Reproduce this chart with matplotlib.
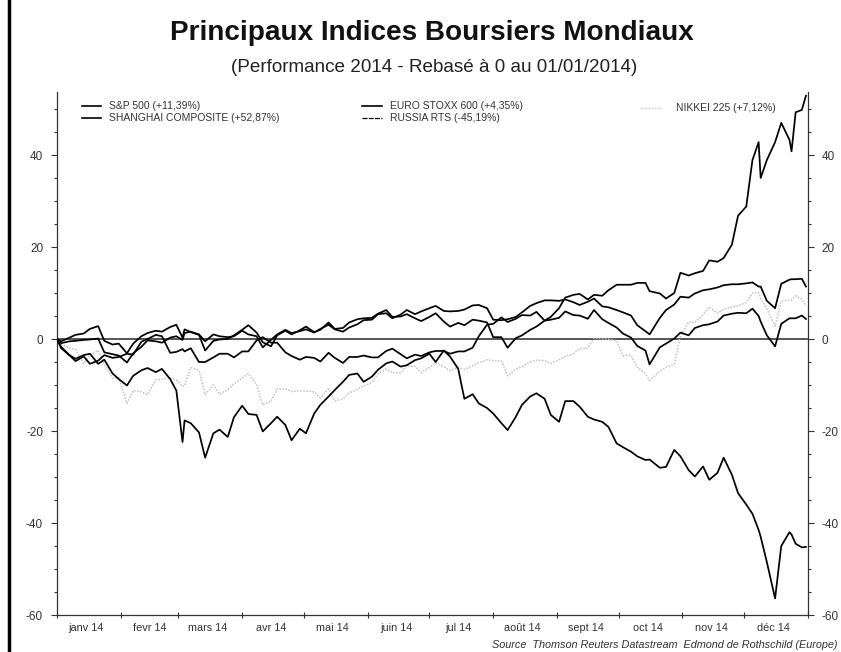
import matplotlib
matplotlib.use("Agg")
import matplotlib.pyplot as plt
from matplotlib.lines import Line2D
import pandas as pd

plt.rcParams['font.family'] = ['Liberation Sans', 'DejaVu Sans']

# ---------------- data ----------------
dates = [
    "01-01", "01-03", "01-07", "01-10", "01-14", "01-17", "01-21", "01-24", "01-28", "01-31",
    "02-04", "02-07", "02-11", "02-14", "02-18", "02-21", "02-25", "02-28",
    "03-03", "03-04", "03-07", "03-11", "03-14", "03-18", "03-21", "03-25", "03-28",
    "04-01", "04-04", "04-08", "04-11", "04-15", "04-18", "04-22", "04-25", "04-29",
    "05-02", "05-06", "05-09", "05-13", "05-16", "05-20", "05-23", "05-27", "05-30",
    "06-03", "06-06", "06-10", "06-13", "06-17", "06-20", "06-24", "06-27",
    "07-01", "07-04", "07-08", "07-11", "07-15", "07-18", "07-22", "07-25", "07-29",
    "08-01", "08-05", "08-08", "08-12", "08-15", "08-19", "08-22", "08-26", "08-29",
    "09-02", "09-05", "09-09", "09-12", "09-16", "09-19", "09-23", "09-26", "09-30",
    "10-03", "10-07", "10-10", "10-14", "10-16", "10-21", "10-24", "10-28", "10-31",
    "11-04", "11-07", "11-11", "11-14", "11-18", "11-21", "11-25", "11-28",
    "12-02", "12-05", "12-08", "12-09", "12-12", "12-16", "12-19", "12-23", "12-24",
    "12-26", "12-29", "12-31",
]

sp500 = [
    0.0, -0.9, -0.5, -0.4, -0.2, -0.1, 0.1, -2.9, -3.3, -3.6,
    -5.1, -3.1, -1.7, -0.3, -0.5, -0.8, 0.3, 0.6,
    -0.2, 1.3, 1.6, 1.0, -0.5, 1.0, 0.6, 0.4, 0.6,
    1.8, 1.0, 0.6, -1.8, -0.2, 1.0, 2.0, 1.3, 1.7,
    2.1, 1.4, 2.2, 3.1, 2.1, 1.6, 2.5, 3.2, 4.1,
    4.2, 5.4, 5.6, 4.5, 5.3, 6.3, 5.4, 6.0,
    6.7, 7.2, 6.1, 6.0, 6.1, 6.4, 7.3, 7.4, 6.7,
    4.2, 4.1, 4.3, 4.8, 5.8, 7.2, 7.8, 8.4, 8.4,
    8.3, 8.6, 8.0, 7.4, 8.1, 8.8, 7.1, 6.9, 6.3,
    5.8, 5.1, 3.0, 1.7, 1.0, 4.6, 6.3, 7.5, 9.2,
    9.0, 9.9, 10.6, 10.8, 11.2, 11.7, 11.9, 11.9,
    12.1, 12.3, 11.4, 11.4, 8.3, 6.7, 12.0, 12.9, 13.0,
    13.0, 13.1, 11.4,
]

eurostoxx600 = [
    0.0, -0.5, 0.3, 0.9, 1.2, 2.2, 2.8, -0.4, -1.2, -1.0,
    -3.1, -1.0, 0.6, 1.3, 1.8, 1.6, 2.6, 3.1,
    0.3, 2.1, 1.5, 0.9, -2.5, -0.4, -0.1, 0.0, 0.8,
    2.0, 3.0, 1.4, -0.7, -1.6, 0.8, 1.8, 1.0, 1.9,
    2.7, 1.5, 2.0, 3.6, 2.2, 2.4, 3.6, 4.3, 4.5,
    4.6, 5.5, 6.3, 4.8, 4.9, 5.4, 4.5, 3.9,
    4.8, 5.6, 3.8, 2.7, 3.5, 3.0, 4.2, 4.0, 3.6,
    0.4, 0.4, -1.9, 0.2, 0.8, 2.0, 2.7, 4.0, 4.2,
    4.6, 6.0, 5.2, 5.1, 4.4, 6.3, 4.3, 3.5, 2.5,
    1.2, 0.3, -1.5, -2.5, -5.5, -1.8, -1.0, 0.1, 1.4,
    0.8, 2.4, 3.0, 3.2, 3.8, 5.1, 5.5, 5.7,
    5.6, 6.6, 5.0, 3.8, 0.8, -1.6, 3.3, 4.5, 4.5,
    4.5, 5.1, 4.35,
]

nikkei225 = [
    0.0, -1.0, -2.0, -2.3, -5.3, -3.4, -2.5, -5.5, -8.5, -8.4,
    -14.0, -11.2, -11.5, -12.1, -8.9, -8.7, -8.5, -8.9,
    -10.3, -10.2, -6.2, -6.8, -12.1, -10.0, -12.0, -11.0, -9.8,
    -8.5, -7.5, -10.0, -14.3, -13.5, -10.9, -10.8, -11.4, -11.3,
    -11.3, -11.5, -12.8, -10.8, -13.5, -13.0, -11.7, -10.9, -10.2,
    -9.5, -7.5, -6.5, -7.3, -7.4, -5.8, -5.9, -7.3,
    -6.2, -5.2, -6.0, -6.9, -6.2, -6.6, -5.8, -5.1, -4.5,
    -4.7, -4.8, -8.0, -6.5, -6.0, -5.0, -4.6, -4.7, -5.3,
    -4.5, -3.8, -3.2, -2.1, -2.0, 0.2, 0.0, 0.0, -0.4,
    -3.6, -3.5, -6.1, -7.5, -9.0, -7.0, -6.1, -5.5, 0.7,
    3.7, 3.6, 5.3, 7.0, 5.6, 6.5, 6.9, 7.2,
    7.9, 10.0, 10.1, 8.8, 6.6, 2.8, 8.2, 8.5, 8.5,
    9.4, 8.7, 7.12,
]

shanghai = [
    0.0, -1.7, -3.5, -4.8, -3.8, -5.4, -4.7, -3.5, -4.1, -3.9,
    -3.2, -3.4, -0.6, 0.0, 0.9, 0.6, -3.0, -2.8,
    -2.2, -2.7, -2.0, -5.0, -5.0, -4.0, -3.2, -3.2, -4.0,
    -2.7, -2.7, -0.3, 0.4, -0.8, -0.8, -2.9, -3.7, -4.5,
    -3.9, -4.1, -4.9, -3.0, -4.1, -5.2, -3.9, -3.9, -3.6,
    -4.0, -4.0, -2.6, -2.1, -3.3, -4.2, -3.4, -3.7,
    -2.9, -2.6, -2.6, -3.2, -2.7, -2.7, -1.9, 0.6, 3.1,
    3.3, 4.7, 3.7, 4.4, 5.2, 5.1, 5.9, 4.0, 4.8,
    6.7, 9.0, 9.6, 9.8, 8.6, 9.6, 9.4, 10.6, 11.8,
    11.8, 11.8, 12.2, 12.2, 10.4, 9.9, 8.8, 10.0, 14.4,
    13.8, 14.3, 14.8, 17.1, 16.8, 17.6, 20.5, 26.8,
    28.8, 38.9, 42.8, 35.0, 38.9, 42.8, 47.0, 43.3, 40.8,
    49.3, 49.8, 52.87,
]

russia_rts = [
    0.0, -2.0, -3.5, -4.3, -3.5, -3.2, -5.4, -4.5, -7.5, -8.7,
    -10.1, -8.0, -6.8, -6.3, -7.2, -6.5, -8.7, -11.2,
    -22.4, -17.7, -18.3, -20.3, -25.8, -20.5, -19.7, -21.3, -17.0,
    -14.5, -16.3, -16.5, -20.1, -18.3, -16.9, -18.7, -22.0, -19.5,
    -20.5, -16.2, -14.3, -12.5, -11.1, -9.3, -7.8, -7.5, -9.3,
    -8.2, -6.7, -5.3, -4.9, -6.0, -5.7, -4.6, -4.2,
    -3.2, -5.0, -2.5, -3.8, -6.5, -13.0, -12.0, -14.0, -15.0,
    -16.2, -18.3, -19.8, -16.9, -14.3, -12.5, -11.8, -13.0, -16.5,
    -18.0, -13.5, -13.5, -14.7, -16.9, -17.5, -18.0, -19.1, -22.7,
    -23.5, -24.5, -25.5, -26.3, -26.2, -28.0, -27.8, -24.1, -25.5,
    -28.5, -29.9, -27.7, -30.6, -29.1, -25.8, -29.5, -33.5,
    -36.0, -38.0, -41.5, -43.0, -48.5, -56.4, -45.0, -42.0, -42.5,
    -44.5, -45.3, -45.19,
]

legend_labels = {
    "sp": "S&P 500 (+11,39%)",
    "sh": "SHANGHAI COMPOSITE (+52,87%)",
    "eu": "EURO STOXX 600 (+4,35%)",
    "ru": "RUSSIA RTS (-45,19%)",
    "nk": "NIKKEI 225 (+7,12%)",
}

month_labels = ["janv 14", "fevr 14", "mars 14", "avr 14", "mai 14", "juin 14",
                "jul 14", "août 14", "sept 14", "oct 14", "nov 14", "déc 14"]

y_ticks = [-60, -40, -20, 0, 20, 40]

title = "Principaux Indices Boursiers Mondiaux"
subtitle = "(Performance 2014 - Rebasé à 0 au 01/01/2014)"
source = "Source  Thomson Reuters Datastream  Edmond de Rothschild (Europe)"

# ---------------- figure ----------------
x = pd.to_datetime(["2014-" + d for d in dates])

fig = plt.figure(figsize=(8.41, 6.52), dpi=100)
fig.patch.set_facecolor("white")
W, H = 841.0, 652.0
ax_left, ax_right, ax_top, ax_bottom = 57, 808, 92, 615
ax = fig.add_axes([ax_left / W, 1 - ax_bottom / H,
                   (ax_right - ax_left) / W, (ax_bottom - ax_top) / H])

ax.axhline(0, color="#555555", lw=1.4, zorder=1)

lw = 1.25
ax.plot(x, nikkei225, color="#c0c0c0", lw=1.1, ls=(0, (1, 1)), zorder=2)
ax.plot(x, russia_rts, color="black", lw=lw, zorder=3)
ax.plot(x, shanghai, color="black", lw=lw, zorder=3)
ax.plot(x, eurostoxx600, color="black", lw=lw, zorder=3)
ax.plot(x, sp500, color="black", lw=lw, zorder=3)

ax.set_xlim(pd.Timestamp("2014-01-01"), pd.Timestamp("2015-01-01"))
ax.set_ylim(-60, 53.7)

# spines
ax.spines["top"].set_visible(False)
for s in ["left", "right", "bottom"]:
    ax.spines[s].set_color("#333333")
    ax.spines[s].set_linewidth(0.9)

# y ticks
ax.set_yticks(y_ticks)
ax.set_yticklabels([str(v) for v in y_ticks])
ax.set_yticks(range(-60, 55, 5), minor=True)
ax.tick_params(axis="y", which="both", direction="out", left=True, right=True,
               labelleft=True, labelright=True, colors="#333333", labelsize=8.5)
ax.tick_params(axis="y", which="major", length=4, width=0.8, pad=6)
ax.tick_params(axis="y", which="minor", length=2.5, width=0.8)

# x ticks: month boundaries as minor ticks, labels mid-month
month_starts = pd.date_range("2014-01-01", "2015-01-01", freq="MS")
mid_months = [pd.Timestamp(2014, m, 15) for m in range(1, 13)]
ax.set_xticks(mid_months)
ax.set_xticklabels(month_labels)
ax.set_xticks(month_starts, minor=True)
ax.tick_params(axis="x", which="major", length=0, labelsize=7.8, colors="#333333", pad=6)
ax.tick_params(axis="x", which="minor", length=4, width=0.8, direction="inout", colors="#333333")

# legend (manual)
def leg_line(x0, x1, y, **kw):
    ax.add_line(Line2D([x0, x1], [y, y], transform=ax.transAxes, clip_on=False, **kw))

def px_ax(xp, yp):
    return (xp - ax_left) / (ax_right - ax_left), (ax_bottom - yp) / (ax_bottom - ax_top)

fs_leg = 7.5
for (xl0, xl1, xt, yp, key, style) in [
    (82, 101, 109, 106, "sp", dict(color="black", lw=1.2)),
    (82, 101, 109, 118, "sh", dict(color="black", lw=1.2)),
    (362, 382, 390, 106, "eu", dict(color="black", lw=1.2)),
    (362, 382, 390, 118, "ru", dict(color="black", lw=0.9, ls=(0, (4, 1)))),
    (640, 662, 676, 108, "nk", dict(color="#c8c8c8", lw=1.0, ls=(0, (1, 1)))),
]:
    a0, ya = px_ax(xl0, yp)
    a1, _ = px_ax(xl1, yp)
    at, _ = px_ax(xt, yp)
    leg_line(a0, a1, ya, **style)
    ax.text(at, ya, legend_labels[key], transform=ax.transAxes, fontsize=fs_leg,
            color="#333333", va="center", ha="left")

# titles
fig.text(432 / W, 1 - 33 / H, title, ha="center", va="center", fontsize=20.1,
         fontweight="bold", color="#111111")
fig.text(434 / W, 1 - 68 / H, subtitle, ha="center", va="center", fontsize=13.6,
         color="#222222")
fig.text(838 / W, 1 - 645 / H, source, ha="right", va="center", fontsize=7.8,
         style="italic", color="#333333")

# scanned-page left border
fig.add_artist(Line2D([9 / W, 9 / W], [0, 1], transform=fig.transFigure,
                      color="black", lw=2.5))

fig.savefig("out.png", dpi=100, facecolor="white")
